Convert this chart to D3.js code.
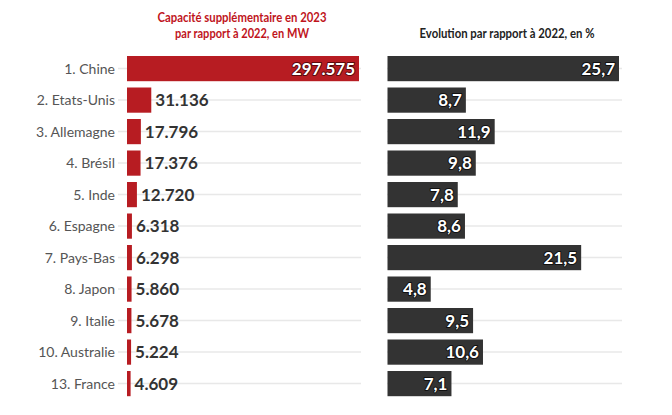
<!DOCTYPE html>
<html><head><meta charset="utf-8">
<script src="https://cdn.jsdelivr.net/npm/d3@7"></script>
<style>body{margin:0;background:#fff}svg{display:block}text{font-family:Lato,"Open Sans",sans-serif}.ttl{font-family:"Liberation Sans Narrow",Lato,sans-serif}</style>
</head><body><svg id="c" width="672" height="415"></svg>
<script>
const categories = ["1. Chine","2. Etats-Unis","3. Allemagne","4. Brésil","5. Inde","6. Espagne","7. Pays-Bas","8. Japon","9. Italie","10. Australie","13. France"];
const capacity = [297575,31136,17796,17376,12720,6318,6298,5860,5678,5224,4609];
const evolution = [25.7,8.7,11.9,9.8,7.8,8.6,21.5,4.8,9.5,10.6,7.1];
const titleLeft = ["Capacité supplémentaire en 2023","par rapport à 2022, en MW"];
const titleRight = "Evolution par rapport à 2022, en %";

const svg = d3.select("#c");
const y = d3.scaleBand().domain(categories).range([52.85, 399.35]).paddingInner(0.2).paddingOuter(0.1);
const xL = d3.scaleLinear().domain([0, d3.max(capacity)]).range([127, 359]);
const xR = d3.scaleLinear().domain([0, d3.max(evolution)]).range([387.5, 619]);
const fmtL = v => d3.format(",")(v).replace(/,/g, ".");
const fmtR = v => d3.format(".1f")(v).replace(".", ",");
const red = "#b71c22", dark = "#333333";

// titles
svg.selectAll(".tl").data(titleLeft).join("text").attr("class","ttl")
  .attr("x", 242).attr("y", (d,i)=>21.6+i*16.3).attr("text-anchor","middle")
  .attr("font-size", 13.5).attr("font-weight", 700).attr("fill", "#c0141c")
  .attr("textLength", (d,i)=> i===0?169:134).attr("lengthAdjust","spacingAndGlyphs")
  .text(d=>d);
svg.append("text").attr("class","ttl").attr("x", 507).attr("y", 37.5).attr("text-anchor","middle")
  .attr("font-size", 13.5).attr("font-weight", 700).attr("fill", "#222")
  .attr("textLength", 175).attr("lengthAdjust","spacingAndGlyphs")
  .text(titleRight);

// grid lines
const c = d => y(d) + y.bandwidth()/2;
svg.selectAll(".gl").data(categories).join("line")
  .attr("x1", 118).attr("x2", 361).attr("y1", c).attr("y2", c)
  .attr("stroke", "#e8e8e8").attr("stroke-width", 1.5);
svg.selectAll(".gr").data(categories).join("line")
  .attr("x1", 387).attr("x2", 622).attr("y1", c).attr("y2", c)
  .attr("stroke", "#e8e8e8").attr("stroke-width", 1.5);

// category labels
svg.selectAll(".cat").data(categories).join("text")
  .attr("x", 115).attr("y", d=>c(d)+5).attr("text-anchor","end")
  .attr("font-size", 14).attr("fill", "#555").text(d=>d);

// left bars
const L = categories.map((k,i)=>({k, v:capacity[i]}));
svg.selectAll(".bl").data(L).join("rect")
  .attr("x", xL(0)).attr("y", d=>y(d.k)).attr("height", y.bandwidth())
  .attr("width", d=>xL(d.v)-xL(0)).attr("fill", red);
svg.selectAll(".vl").data(L).join("text")
  .each(function(d){
    const inside = (xL(d.v)-xL(0)) > 80;
    const t = d3.select(this);
    t.attr("y", c(d.k)+6).attr("font-size", 17).attr("font-weight", 700)
     .attr("x", inside ? xL(d.v)-4 : xL(d.v)+4)
     .attr("text-anchor", inside ? "end" : "start")
     .attr("fill", inside ? "#fff" : "#333");
    if (inside) t.attr("stroke", "#5a0a0d").attr("stroke-width", 2).attr("paint-order","stroke").attr("stroke-linejoin","round");
  })
  .text(d=>fmtL(d.v));

// right bars
const R = categories.map((k,i)=>({k, v:evolution[i]}));
svg.selectAll(".br").data(R).join("rect")
  .attr("x", xR(0)).attr("y", d=>y(d.k)).attr("height", y.bandwidth())
  .attr("width", d=>xR(d.v)-xR(0)).attr("fill", dark);
svg.selectAll(".vr").data(R).join("text")
  .attr("x", d=>xR(d.v)-4).attr("y", d=>c(d.k)+6).attr("text-anchor","end")
  .attr("font-size", 17).attr("font-weight", 700).attr("fill", "#fff")
  .attr("stroke", "#111").attr("stroke-width", 2).attr("paint-order","stroke").attr("stroke-linejoin","round")
  .text(d=>fmtR(d.v));
</script></body></html>
